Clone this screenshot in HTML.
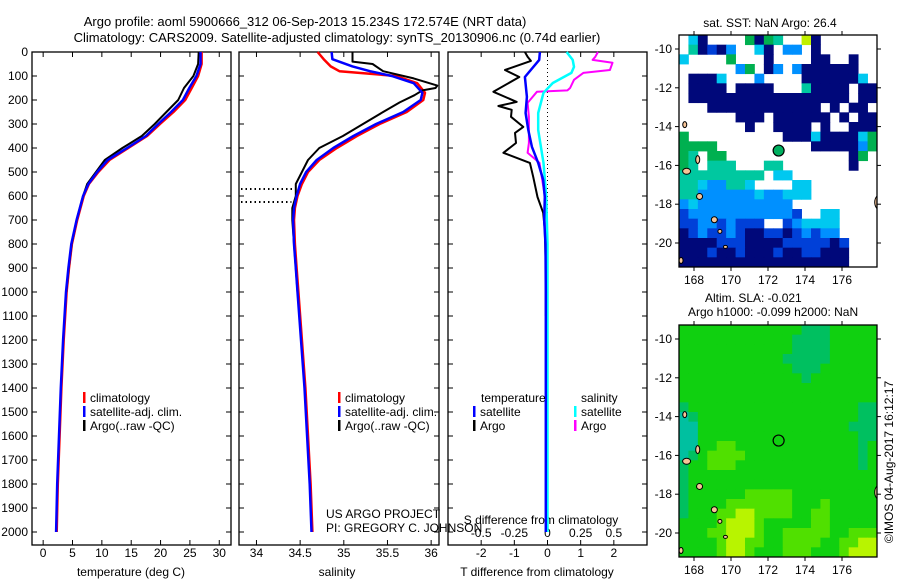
<!DOCTYPE html>
<html><head><meta charset="utf-8"><style>
body{margin:0;background:#fff;}
svg{display:block;font-family:"Liberation Sans",sans-serif;}
text{fill:#000;}
</style></head><body>
<svg id="fig" width="900" height="580" viewBox="0 0 900 580">
<defs>
<clipPath id="c1"><rect x="679" y="35" width="198" height="232"/></clipPath>
<clipPath id="c2"><rect x="679" y="325" width="198" height="232"/></clipPath>
</defs>
<text x="305" y="26" font-size="13" text-anchor="middle">Argo profile: aoml 5900666_312 06-Sep-2013 15.234S 172.574E (NRT data)</text>
<text x="337" y="42" font-size="13" text-anchor="middle">Climatology: CARS2009. Satellite-adjusted climatology: synTS_20130906.nc (0.74d earlier)</text>
<g id="p1"></g>
<g id="p2"></g>
<g id="p3"></g>
<g id="m1"></g>
<g id="m2"></g>
<text x="326" y="518" font-size="12">US ARGO PROJECT</text>
<text x="326" y="532" font-size="12">PI: GREGORY C. JOHNSON</text>
<text x="770" y="27" font-size="12" text-anchor="middle">sat. SST: NaN Argo: 26.4</text>
<text x="705" y="302" font-size="12">Altim. SLA: -0.021</text>
<text x="688" y="316" font-size="12">Argo h1000: -0.099 h2000: NaN</text>
<text transform="translate(893,462) rotate(-90)" font-size="12" text-anchor="middle">©IMOS 04-Aug-2017 16:12:17</text>
</svg>
<script>
// ---- profile data ----
const tempDepth = [0,50,100,150,200,250,300,350,400,450,500,550,600,700,800,900,1000,1200,1400,1600,1800,2000];
const tempClim = [27.0,27.0,26.4,25.3,24.2,22.2,19.9,17.7,14.5,11.3,9.4,7.8,6.9,5.8,4.9,4.4,4.0,3.5,3.1,2.8,2.5,2.3];
const tempSat = [26.8,26.8,26.1,24.9,23.8,21.8,19.6,17.5,14.3,11.0,9.2,7.7,6.8,5.7,4.8,4.3,3.9,3.4,3.0,2.7,2.4,2.2];
const argoTempDepth = [0,50,100,150,200,250,300,350,400,450,500,550,600,700,800,900,1000];
const tempArgo = [26.5,26.4,25.6,24.0,23.0,21.0,19.0,16.8,13.5,10.5,9.0,7.5,6.8,5.7,4.85,4.35,3.95];
const salDepth = [0,30,60,80,100,130,170,200,250,300,350,400,450,500,550,600,650,700,800,900,1000,1200,1400,1600,1800,2000];
const salClim = [34.70,34.77,34.85,34.95,35.60,35.84,35.93,35.91,35.72,35.41,35.15,34.92,34.72,34.59,34.52,34.47,34.44,34.43,34.44,34.46,34.48,34.52,34.56,34.59,34.62,34.64];
const salSat = [34.86,34.87,35.10,35.30,35.55,35.80,35.90,35.88,35.68,35.37,35.11,34.88,34.69,34.57,34.50,34.46,34.43,34.42,34.43,34.45,34.47,34.51,34.55,34.58,34.61,34.63];
const argoSalDepth = [0,40,50,80,110,140,150,160,180,210,250,300,350,400,450,500,550,600,650,700,800,900,1000];
const salArgo = [35.10,35.10,35.33,35.45,35.80,36.07,36.05,35.90,35.81,35.64,35.45,35.22,34.99,34.72,34.59,34.52,34.45,34.45,34.41,34.41,34.43,34.45,34.47];
const mixedLayerDepths = [571,625];
const mixedLayerSal = [34.46,34.40];
// ---- difference data ----
const dTSatDepth = [0,33,104,187,254,325,395,462,533,604,700,800,1000,1500,2000];
const dTSat = [-0.23,-0.25,-0.68,-0.62,-0.66,-0.58,-0.47,-0.28,-0.13,-0.08,-0.1,-0.06,-0.05,-0.05,-0.05];
const dTArgoDepth = [0,20,37,75,104,166,208,225,241,270,312,337,379,420,462,520,604,670,741,900,1100];
const dTArgo = [-0.68,-0.6,-0.5,-1.28,-0.85,-1.63,-0.93,-1.48,-1.08,-1.1,-0.73,-0.98,-0.95,-1.33,-0.53,-0.43,-0.3,-0.13,-0.08,-0.05,-0.05];
const dSSatDepth = [0,33,62,87,129,170,254,325,462,600,800,2000];
const dSSat = [0.144,0.19,0.20,0.18,0.04,-0.03,-0.07,-0.07,-0.03,-0.01,0.0,0.0];
const dSArgoDepth = [0,20,33,45,75,87,116,150,160,166,212,270,325,379,420,462,533,600,800,1100];
const dSArgo = [0.38,0.36,0.34,0.49,0.47,0.27,0.20,0.17,0.15,-0.08,-0.15,-0.14,-0.14,-0.14,-0.15,-0.06,-0.04,-0.02,0.0,0.0];
// ---- tick labels ----
const depthTicks = [0,100,200,300,400,500,600,700,800,900,1000,1100,1200,1300,1400,1500,1600,1700,1800,1900,2000];
const tempTicks = [0,5,10,15,20,25,30];
const salTicks = [34,34.5,35,35.5,36];
const dTTicks = [-2,-1,0,1,2];
const dSTicks = [-0.5,-0.25,0,0.25,0.5];
const dSTickLabels = ["-0.5","-0.25","0","0.25","0.5"];
const lonTicks = [168,170,172,174,176];
const latTicks = [-10,-12,-14,-16,-18,-20];
// ---- map data (0.5 deg cells from 167.3E, -9.3 down) ----
const sstRows = [
".CN....gNgG..YN......",".GNBNL..CN.LL.N......","C....g...N....NN..N..","......Lg.NL.LNNNNNN..",
".NNNC...L....NNNNNNC.",".NNNN.NNNN...GNNNN.NN",".NNNNNNNNNNNNNNNNN.NN","...NNNNNNNNNNNN.N.NN.",
"......NNN.NNNNNN.N.NN",".......N..NNNN.N..NNN","g..........NNNCNNNNCg","gggg..........NNNNNLg",
"gG.gg.............Ng.","gG.GGG...GG.......N..","GGGGGGGGG.CC.........","GGCLLGGC....CC.......",
"GGLLLLLLCLLCCC.......","LCLLLLLLLLLL.........","BLLLLLLLLLLLB..CC....","BBLLBLBBB..BLCCCC....",
"NBLBBLBNNBBNBLBLL....","NNNNBBBNNNNBBBBBNB...","NNNBNNBNNNBNNBBNNN...","NNNNNNNNNNNNNNNNNN..."];
const slaRows = [
"gggggggggggggtttggggg","ggggggggggggttttggggg","ggggggggggggttttggggg","gggggggggggtttttggggg",
"ggggggggggggtttgggggg","gggggggggggggtggggggg","ggggggggggggggggggggg","ggggggggggggggggggggg",
"tggggggggggggggggggtt","Ttgggggggggggggggggtt","TTggggggggggggggggttt","TTgggggggggggggggggtt",
"TTggyygggggggggggggtg","Ttgyyyyggggggggggggtg","tggyyygggggggggggggtg","tgggggggggggggggggggg",
"tgggggggggggggggggggg","tggggggyyyyyggggggggg","tggggyyyyyyygggyggggg","tgggyyYYyyyyggyyggggg",
"ggggyYYYygggggyyggggg","gggyyYYYyggyyyyyggyyy","ggggyYYyyggyyyyggyyYY","ggggyYYygggyyygggyYYY"];
const floatLon = 172.574, floatLat = -15.234;

const NS="http://www.w3.org/2000/svg";
function mk(parent,tag,attrs){const e=document.createElementNS(NS,tag);for(const k in attrs)e.setAttribute(k,attrs[k]);parent.appendChild(e);return e;}
const Y0=52, YS=0.24, YB=545;
const yD = d => Y0 + d*YS;

function panel(g,x0,x1,vmin,vmax,showDepth){
  const sx = v => x0 + (v-vmin)/(vmax-vmin)*(x1-x0);
  const r=mk(g,'rect',{x:x0,y:Y0,width:x1-x0,height:YB-Y0,fill:'none',stroke:'#000','stroke-width':1.3});
  
  
  depthTicks.forEach(d=>{
    mk(g,'line',{x1:x0,x2:x0+5,y1:yD(d),y2:yD(d),stroke:'#000'});
    mk(g,'line',{x1:x1-5,x2:x1,y1:yD(d),y2:yD(d),stroke:'#000'});
    if(showDepth){const t=mk(g,'text',{x:28,y:yD(d)+4,'font-size':12,'text-anchor':'end'});t.textContent=d;
      
      }
  });
  return sx;
}
function line(g,sx,depths,vals,color,w,name){
  const pts=depths.map((d,i)=>sx(vals[i]).toFixed(1)+','+yD(d).toFixed(1)).join(' ');
  const p=mk(g,'polyline',{points:pts,fill:'none',stroke:color,'stroke-width':w,'stroke-linejoin':'round'});
  
  
}
function xticks(g,sx,ticks,labels,y){
  ticks.forEach((v,i)=>{
    mk(g,'line',{x1:sx(v),x2:sx(v),y1:YB,y2:YB-5,stroke:'#000'});
    mk(g,'line',{x1:sx(v),x2:sx(v),y1:Y0,y2:Y0+5,stroke:'#000'});
    const t=mk(g,'text',{x:sx(v),y:y,'font-size':12,'text-anchor':'middle'});t.textContent=labels?labels[i]:v;
    
    
  });
}
function txt(g,x,y,s,name,anchor){const t=mk(g,'text',{x:x,y:y,'font-size':12,'text-anchor':anchor||'start'});t.textContent=s;
  
  return t;}
function legend(g,x,y,items){
  items.forEach((it,i)=>{
    mk(g,'rect',{x:x,y:y+i*14-10,width:2.5,height:11,fill:it[1]});
    txt(g,x+7,y+i*14,it[0],'legend-entry');
  });
}
// Panel 1
const g1=document.getElementById('p1');
const sT=panel(g1,32,231,-1.9,32,true);
xticks(g1,sT,tempTicks,null,557);
line(g1,sT,tempDepth,tempClim,'#f00',2.5,'temp-climatology-line');
line(g1,sT,argoTempDepth,tempArgo,'#000',2,'temp-argo-line');
line(g1,sT,tempDepth,tempSat,'#00f',2.5,'temp-satellite-line');
txt(g1,131,576,'temperature (deg C)','x-axis-title','middle');
legend(g1,83,402,[['climatology','#f00'],['satellite-adj. clim.','#00f'],['Argo(..raw -QC)','#000']]);
// Panel 2
const g2=document.getElementById('p2');
const sS=panel(g2,239,439,33.8,36.09,false);
xticks(g2,sS,salTicks,null,557);
mixedLayerDepths.forEach((d,i)=>{const l=mk(g2,'line',{x1:241,x2:sS(mixedLayerSal[i]),y1:yD(d),y2:yD(d),stroke:'#000','stroke-width':2,'stroke-dasharray':'1.5,3'});
  
  });
line(g2,sS,salDepth,salClim,'#f00',2.5,'sal-climatology-line');
line(g2,sS,argoSalDepth,salArgo,'#000',2,'sal-argo-line');
line(g2,sS,salDepth,salSat,'#00f',2.5,'sal-satellite-line');
txt(g2,337,576,'salinity','x-axis-title','middle');
legend(g2,338,402,[['climatology','#f00'],['satellite-adj. clim.','#00f'],['Argo(..raw -QC)','#000']]);
// Panel 3
const g3=document.getElementById('p3');
const sdT=panel(g3,448,647,-3,3,false);
const sdS=v=>448+(v+0.75)/1.5*199;
xticks(g3,sdT,dTTicks,null,557);
dSTicks.forEach((v,i)=>txt(g3,sdS(v),537,dSTickLabels[i],'s-tick-label','middle'));
txt(g3,541,524,'S difference from climatology','s-axis-title','middle');
txt(g3,537,576,'T difference from climatology','x-axis-title','middle');
mk(g3,'line',{x1:sdT(0),x2:sdT(0),y1:Y0,y2:yD(800),stroke:'#000','stroke-dasharray':'1,3'});
line(g3,sdT,dTArgoDepth,dTArgo,'#000',2,'dt-argo-line');
line(g3,sdS,dSArgoDepth,dSArgo,'#f0f',2,'ds-argo-line');
line(g3,sdS,dSSatDepth,dSSat,'#0ff',2.5,'ds-satellite-line');
line(g3,sdT,dTSatDepth,dTSat,'#00f',2.5,'dt-satellite-line');
txt(g3,481,402,'temperature','legend-header');
txt(g3,581,402,'salinity','legend-header');
legend(g3,473,416,[['satellite','#00f'],['Argo','#000']]);
legend(g3,574,416,[['satellite','#0ff'],['Argo','#f0f']]);
// Maps
const sstColors={N:'#00087a',B:'#0040d8',L:'#0090ff',C:'#00c8f0',G:'#00c8a0',g:'#00b050',Y:'#c0f000'};
const slaColors={g:'#10d010',t:'#00c060',T:'#00c0a0',y:'#50e000',Y:'#b8f400'};
function map(g,top,rows,colors,name,markerFill,clip){
  const X0=679,X1=877,Y1=top+232;
  const lonX=l=>694+(l-168)*18.5;
  const latY=la=>top+14+(-10-la)*19.4;
  const cw=(X1-X0)/21,ch=(Y1-top)/24;
  const inner=mk(g,'g',{'clip-path':'url(#'+clip+')'});
  mk(inner,'rect',{x:X0,y:top,width:X1-X0,height:232,fill:'#fff'});
  rows.forEach((row,r)=>{for(let c=0;c<row.length;c++){const k=row[c];if(colors[k]){
    const cell=mk(inner,'rect',{x:(X0+c*cw).toFixed(2),y:(top+r*ch).toFixed(2),width:(cw+0.4).toFixed(2),height:(ch+0.4).toFixed(2),fill:colors[k]});
    
    }}});
  [[168.2,-15.7,2,4],[167.6,-16.3,4,3],[168.3,-17.6,3,3],[169.1,-18.8,3,3],[169.4,-19.4,2,2],[167.5,-13.9,2,3],[178.2,-17.9,8,9],[167.3,-20.9,2,3],[169.7,-20.2,2,1.5]].forEach(a=>{
    const e=mk(inner,'ellipse',{cx:lonX(a[0]),cy:latY(a[1]),rx:a[2],ry:a[3],fill:'#f7c497',stroke:'#000','stroke-width':1});
    
    });
  const f=mk(g,'rect',{x:X0,y:top,width:X1-X0,height:232,fill:'none',stroke:'#000','stroke-width':1.3});
  
  
  lonTicks.forEach(l=>{mk(g,'line',{x1:lonX(l),x2:lonX(l),y1:top,y2:top-4,stroke:'#000'});mk(g,'line',{x1:lonX(l),x2:lonX(l),y1:Y1,y2:Y1+4,stroke:'#000'});
    txt(g,lonX(l),Y1+17,String(l),'lon-tick-label','middle');});
  latTicks.forEach(la=>{mk(g,'line',{x1:X0,x2:X0-4,y1:latY(la),y2:latY(la),stroke:'#000'});mk(g,'line',{x1:X1,x2:X1+4,y1:latY(la),y2:latY(la),stroke:'#000'});
    txt(g,672,latY(la)+4,String(la),'lat-tick-label','end');});
  const m=mk(g,'circle',{cx:lonX(floatLon),cy:latY(floatLat),r:5.5,fill:markerFill,stroke:'#000','stroke-width':1.2});
  
  
}
map(document.getElementById('m1'),35,sstRows,sstColors,'sst','#00b060','c1');
map(document.getElementById('m2'),325,slaRows,slaColors,'sla','none','c2');
</script>
</body></html>
